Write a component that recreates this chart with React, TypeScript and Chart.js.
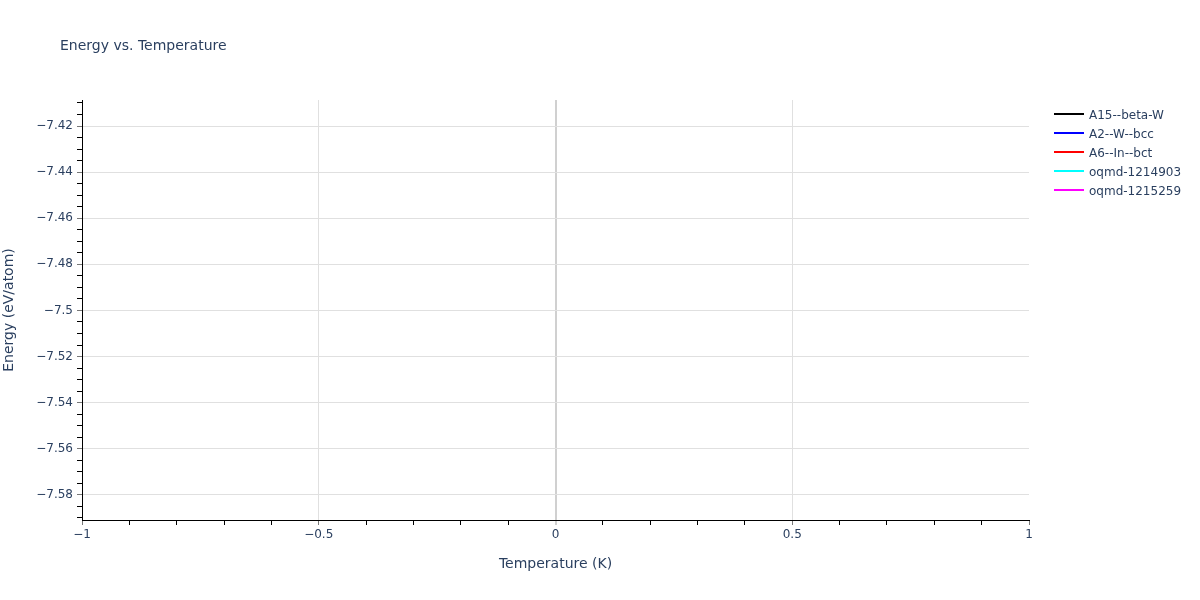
import React, { useEffect, useRef } from "react";
import { Chart, registerables } from "chart.js";

Chart.register(...registerables);

// ---- data ----
const chartTitle = "Energy vs. Temperature";
const xAxisTitle = "Temperature (K)";
const yAxisTitle = "Energy (eV/atom)";
const seriesNames = ["A15--beta-W", "A2--W--bcc", "A6--In--bct", "oqmd-1214903", "oqmd-1215259"];
const seriesColors = ["#000000", "#0000ff", "#ff0000", "#00ffff", "#ff00ff"];
// The reference plot contains no data points for any series.
const temperatures: number[] = [];
const energyA15: number[] = [];
const energyA2: number[] = [];
const energyA6: number[] = [];
const energyOqmd1214903: number[] = [];
const energyOqmd1215259: number[] = [];
const seriesEnergies = [energyA15, energyA2, energyA6, energyOqmd1214903, energyOqmd1215259];

const xMin = -1;
const xMax = 1;
const xMajorStep = 0.5;
const xMinorStep = 0.1;
const yMin = -7.5909;
const yMax = -7.4087;
const yMajorStep = 0.02;
const yMinorStep = 0.005;

// ---- style ----
const FONT = "'DejaVu Sans', Verdana, sans-serif";
const TEXT_COLOR = "#2a3f5f";
const GRID_COLOR = "#e0e0e0";
const ZERO_COLOR = "#d0d0d0";
const AXIS_COLOR = "#000000";
const MAJOR_TICK_COLOR = "#777777";
const NONE = "rgba(0,0,0,0)";

function makeTicks(min: number, max: number, step: number) {
  const out: { value: number }[] = [];
  const start = Math.ceil(min / step - 1e-9);
  const end = Math.floor(max / step + 1e-9);
  for (let i = start; i <= end; i++) out.push({ value: +(i * step).toFixed(6) });
  return out;
}
function isMajor(v: number, step: number) {
  return Math.abs(v / step - Math.round(v / step)) < 1e-6;
}
function fmt(v: number) {
  const s = String(+Math.abs(v).toFixed(4));
  return v < -1e-12 ? "\u2212" + s : s;
}

const overlayPlugin = {
  id: "overlay",
  afterDraw(chart: any) {
    const { ctx, chartArea } = chart;
    ctx.save();
    ctx.textAlign = "left";
    ctx.textBaseline = "alphabetic";
    ctx.fillStyle = TEXT_COLOR;
    ctx.font = `14px ${FONT}`;
    ctx.fillText(chartTitle, 60, 49.5);
    ctx.font = `12px ${FONT}`;
    const lx = chartArea.right + 25;
    chart.data.datasets.forEach((ds: any, i: number) => {
      const y = chartArea.top + 14 + i * 19;
      ctx.strokeStyle = ds.borderColor;
      ctx.lineWidth = 2;
      ctx.beginPath();
      ctx.moveTo(lx, y);
      ctx.lineTo(lx + 30, y);
      ctx.stroke();
      ctx.fillStyle = TEXT_COLOR;
      ctx.fillText(ds.label, lx + 35, y + 4.5);
    });
    ctx.restore();
  },
};

export default function App() {
  const ref = useRef<HTMLCanvasElement>(null);
  useEffect(() => {
    if (!ref.current) return;
    const datasets = seriesNames.map((name, i) => ({
      label: name,
      data: seriesEnergies[i].map((e, j) => ({ x: temperatures[j], y: e })),
      borderColor: seriesColors[i],
      backgroundColor: seriesColors[i],
      borderWidth: 2,
      pointRadius: 0,
      showLine: true,
    }));
    const chart = new Chart(ref.current, {
      type: "line",
      data: { datasets },
      plugins: [overlayPlugin],
      options: {
        animation: false,
        responsive: false,
        devicePixelRatio: 1,
        layout: { padding: { top: 100, right: 171, left: 0, bottom: 0 } },
        plugins: { legend: { display: false }, title: { display: false }, tooltip: { enabled: false } },
        scales: {
          x: {
            type: "linear",
            min: xMin,
            max: xMax,
            afterBuildTicks: (s: any) => {
              s.ticks = makeTicks(xMin, xMax, xMinorStep);
            },
            afterFit: (s: any) => {
              s.height = 80;
            },
            ticks: {
              autoSkip: false,
              maxRotation: 0,
              padding: 3,
              color: TEXT_COLOR,
              font: { family: FONT, size: 12 },
              callback: (v: any) => (isMajor(Number(v), xMajorStep) ? fmt(Number(v)) : ""),
            },
            grid: {
              drawTicks: true,
              tickLength: 5,
              color: (c: any) => {
                const v = c.tick ? c.tick.value : NaN;
                if (Math.abs(v) < 1e-9) return ZERO_COLOR;
                if (isMajor(v, xMajorStep) && v > xMin && v < xMax) return GRID_COLOR;
                return NONE;
              },
              lineWidth: (c: any) => (c.tick && Math.abs(c.tick.value) < 1e-9 ? 2 : 1),
              tickColor: (c: any) => {
                if (!c.tick) return AXIS_COLOR;
                if (Math.abs(c.tick.value) < 1e-9) return ZERO_COLOR;
                return isMajor(c.tick.value, xMajorStep) ? MAJOR_TICK_COLOR : AXIS_COLOR;
              },
              tickWidth: (c: any) => (c.tick && Math.abs(c.tick.value) < 1e-9 ? 2 : 1),
            },
            border: { display: true, color: AXIS_COLOR, width: 1 },
            title: {
              display: true,
              text: xAxisTitle,
              color: TEXT_COLOR,
              font: { family: FONT, size: 14, lineHeight: 1 },
              padding: { top: 0, bottom: 28.6 },
            },
          },
          y: {
            type: "linear",
            min: yMin,
            max: yMax,
            afterBuildTicks: (s: any) => {
              s.ticks = makeTicks(yMin, yMax, yMinorStep);
            },
            afterFit: (s: any) => {
              s.width = 82;
            },
            ticks: {
              autoSkip: false,
              padding: 4,
              color: TEXT_COLOR,
              font: { family: FONT, size: 12 },
              callback: (v: any) => (isMajor(Number(v), yMajorStep) ? fmt(Number(v)) : ""),
            },
            grid: {
              drawTicks: true,
              tickLength: 5,
              color: (c: any) => (c.tick && isMajor(c.tick.value, yMajorStep) ? GRID_COLOR : NONE),
              lineWidth: 1,
              tickColor: (c: any) => (c.tick && isMajor(c.tick.value, yMajorStep) ? MAJOR_TICK_COLOR : AXIS_COLOR),
              tickWidth: 1,
            },
            border: { display: true, color: AXIS_COLOR, width: 1 },
            title: {
              display: true,
              text: yAxisTitle,
              color: TEXT_COLOR,
              font: { family: FONT, size: 14, lineHeight: 1 },
              padding: { top: 2.5, bottom: 0 },
            },
          },
        },
      } as any,
    });
    return () => chart.destroy();
  }, []);
  return (
    <div style={{ position: "absolute", left: 0, top: 0, width: 1200, height: 600, background: "#fff" }}>
      <canvas ref={ref} width={1200} height={600} style={{ display: "block", width: 1200, height: 600 }} />
    </div>
  );
}
